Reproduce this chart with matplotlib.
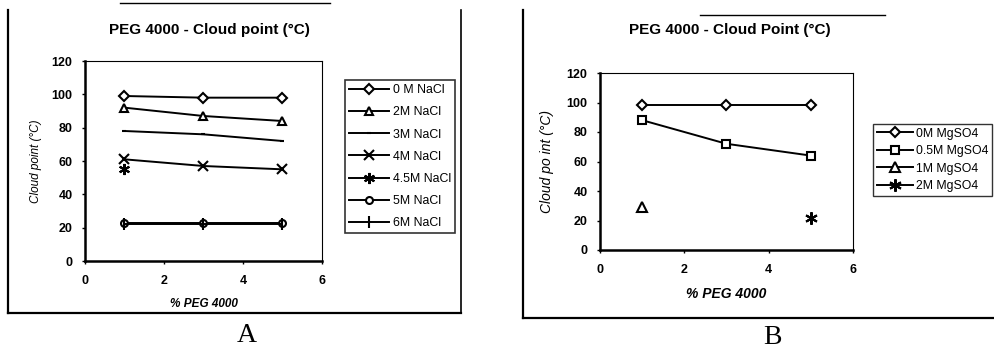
import matplotlib
matplotlib.use("Agg")
import matplotlib.pyplot as plt
from matplotlib.lines import Line2D
import numpy as np

plt.rcParams["font.family"] = ["Liberation Sans", "DejaVu Sans"]

# % PEG 4000
peg = [1, 3, 5]

# panel A : NaCl
nacl_labels = ["0 M NaCl", "2M NaCl", "3M NaCl", "4M NaCl", "4.5M NaCl", "5M NaCl", "6M NaCl"]
nacl_0 = [99, 98, 98]
nacl_2 = [92, 87, 84]
nacl_3 = [78, 76, 72]
nacl_4 = [61, 57, 55]
nacl_45 = [55, np.nan, np.nan]
nacl_5 = [23, 23, 23]
nacl_6 = [22, 22, 22]

# panel B : MgSO4
mg_labels = ["0M MgSO4", "0.5M MgSO4", "1M MgSO4", "2M MgSO4"]
mg_0 = [98, 98, 98]
mg_05 = [88, 72, 64]
mg_1 = [29, np.nan, np.nan]
mg_2 = [np.nan, np.nan, 22]

xticks = [0, 2, 4, 6]
yticks = [0, 20, 40, 60, 80, 100, 120]

W, H = 995, 353
fig = plt.figure(figsize=(W / 100, H / 100), dpi=100)


def fx(px):
    return px / W


def fy(py):
    return 1 - py / H


def frame_line(x0, y0, x1, y1, lw=1.6):
    fig.add_artist(Line2D([fx(x0), fx(x1)], [fy(y0), fy(y1)],
                          transform=fig.transFigure, color="black", lw=lw))


def style_axes(ax):
    ax.set_xlim(0, 6)
    ax.set_ylim(0, 120)
    ax.set_xticks(xticks)
    ax.set_yticks(yticks)
    for lab in ax.get_xticklabels() + ax.get_yticklabels():
        lab.set_fontweight("bold")
        lab.set_fontsize(9)
    ax.tick_params(axis="both", length=2, width=1, direction="out")
    ax.tick_params(axis="y", pad=7)
    ax.tick_params(axis="x", pad=8)
    ax.spines["left"].set_linewidth(1.8)
    ax.spines["bottom"].set_linewidth(1.8)
    ax.spines["top"].set_linewidth(0.8)
    ax.spines["right"].set_linewidth(0.8)


mk = dict(color="black", lw=1.4, mfc="white", mec="black", mew=1.5)

# ---------------- panel A ----------------
axA = fig.add_axes([fx(85), fy(261), fx(322) - fx(85), fy(61) - fy(261)])
axA.plot(peg, nacl_0, marker="D", ms=5, label=nacl_labels[0], **mk)
axA.plot(peg, nacl_2, marker="^", ms=6, label=nacl_labels[1], **mk)
axA.plot(peg, nacl_3, marker="_", ms=3, label=nacl_labels[2], **mk)
axA.plot(peg, nacl_4, marker="x", ms=7, label=nacl_labels[3], **mk)
axA.plot(peg, nacl_45, marker=(6, 2, 0), ms=8, label=nacl_labels[4], **mk)
axA.plot(peg, nacl_5, marker="o", ms=5, label=nacl_labels[5], **mk)
axA.plot(peg, nacl_6, marker="|", ms=8, label=nacl_labels[6], **mk)
style_axes(axA)
axA.set_xlabel("% PEG 4000", fontsize=8.5, fontweight="bold", style="italic", labelpad=8)
axA.set_ylabel("Cloud point (°C)", fontsize=8.5, style="italic", labelpad=7)
fig.text(fx(209), fy(30), "PEG 4000 - Cloud point (°C)", fontsize=11,
         fontweight="bold", ha="center", va="center")
legA = fig.legend(*axA.get_legend_handles_labels(), loc="upper left",
                  bbox_to_anchor=(fx(345), fy(80)), bbox_transform=fig.transFigure,
                  fontsize=8.9, frameon=True, fancybox=False, edgecolor="black",
                  handlelength=3.2, labelspacing=0.82, borderpad=0.35, handletextpad=0.3,
                  borderaxespad=0)
legA.get_frame().set_linewidth(1.2)

frame_line(8, 10, 8, 313)
frame_line(8, 313, 461, 313)
frame_line(461, 10, 461, 313, lw=1.2)
frame_line(120, 3, 330, 3, lw=1.0)
fig.text(fx(247), fy(335), "A", fontsize=20, family="Liberation Serif",
         ha="center", va="center")

# ---------------- panel B ----------------
axB = fig.add_axes([fx(600), fy(250), fx(853) - fx(600), fy(73) - fy(250)])
axB.plot(peg, mg_0, marker="D", ms=5, label=mg_labels[0], **mk)
axB.plot(peg, mg_05, marker="s", ms=6, label=mg_labels[1], **mk)
axB.plot(peg, mg_1, marker="^", ms=7, label=mg_labels[2], **mk)
axB.plot(peg, mg_2, marker=(6, 2, 0), ms=9, label=mg_labels[3], **mk)
style_axes(axB)
axB.set_xlabel("% PEG 4000", fontsize=10, fontweight="bold", style="italic", labelpad=8)
axB.set_ylabel("Cloud po int (°C)", fontsize=10, style="italic", labelpad=9)
fig.text(fx(730), fy(30), "PEG 4000 - Cloud Point (°C)", fontsize=11,
         fontweight="bold", ha="center", va="center")
legB = fig.legend(*axB.get_legend_handles_labels(), loc="upper left",
                  bbox_to_anchor=(fx(873), fy(124)), bbox_transform=fig.transFigure,
                  fontsize=8.8, frameon=True, fancybox=False, edgecolor="black",
                  handlelength=3.0, labelspacing=0.45, borderpad=0.3, handletextpad=0.2,
                  borderaxespad=0)
legB.get_frame().set_linewidth(1.0)

frame_line(523, 10, 523, 318)
frame_line(523, 318, 995, 318)
frame_line(700, 15, 885, 15, lw=1.0)
fig.text(fx(772), fy(337), "B", fontsize=20, family="Liberation Serif",
         ha="center", va="center")

fig.savefig("out.png", dpi=100, facecolor="white")
